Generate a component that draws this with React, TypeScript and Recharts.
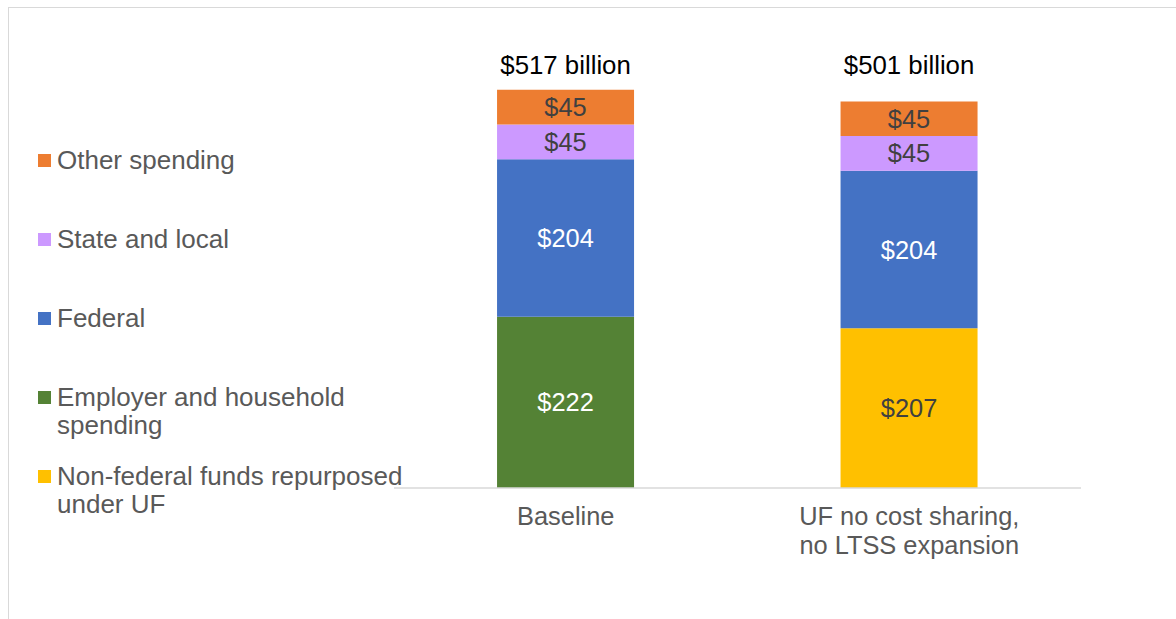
import { Bar, BarChart, LabelList, XAxis, YAxis } from "recharts";

const FONT = '"Liberation Sans", Arial, sans-serif';

const categories = ["Baseline", "UF no cost sharing, no LTSS expansion"];
const totals = [517, 501];
const nonFederal = [null, 207];
const employer = [222, null];
const federal = [204, 204];
const stateLocal = [45, 45];
const other = [45, 45];

// stacked bottom -> top; legend reads top -> bottom
const SERIES = [
  { key: "nonFederal", name: "Non-federal funds repurposed under UF", values: nonFederal, fill: "#FFC000", ink: "#404040" },
  { key: "employer", name: "Employer and household spending", values: employer, fill: "#548235", ink: "#ffffff" },
  { key: "federal", name: "Federal", values: federal, fill: "#4472C4", ink: "#ffffff" },
  { key: "stateLocal", name: "State and local", values: stateLocal, fill: "#CC99FF", ink: "#404040" },
  { key: "other", name: "Other spending", values: other, fill: "#ED7D31", ink: "#404040" },
];

const data = categories.map((name, i) => {
  const row: Record<string, any> = { name, total: totals[i] };
  SERIES.forEach((s) => (row[s.key] = s.values[i]));
  return row;
});

function CategoryTick({ x, y, payload }: any) {
  const lines = String(payload.value).split(/(?<=,) /);
  return (
    <text x={x} y={y} textAnchor="middle" fill="#595959" fontSize={25.4} fontFamily={FONT}>
      {lines.map((l, i) => (
        <tspan key={i} x={x} dy={i === 0 ? 37 : 29}>
          {l}
        </tspan>
      ))}
    </text>
  );
}

function TotalLabel(p: any) {
  return (
    <text x={p.x + p.width / 2} y={74} textAnchor="middle" fill="#000000" fontSize={25.8} fontFamily={FONT}>
      {`$${p.value} billion`}
    </text>
  );
}

function Legend() {
  return (
    <div style={{ position: "absolute", left: 38, top: 146, width: 380, fontFamily: FONT, fontSize: 26, color: "#595959", lineHeight: "28px" }}>
      {[...SERIES].reverse().map((s) => (
        <div key={s.key} style={{ display: "flex", height: 79 }}>
          <span style={{ width: 13, height: 13, background: s.fill, marginTop: 8, marginRight: 6, flex: "none" }} />
          <span>{s.name}</span>
        </div>
      ))}
    </div>
  );
}

export default function App() {
  return (
    <div style={{ position: "fixed", left: 0, top: 0, width: 1176, height: 619, overflow: "hidden", background: "#fff" }}>
      <div style={{ position: "absolute", left: 8, top: 7, width: 1300, height: 800, border: "1px solid #d9d9d9" }} />
      <Legend />
      <div style={{ position: "absolute", left: 0, top: 0 }}>
        <BarChart width={1176} height={619} data={data} margin={{ top: 25, right: 95, bottom: 0, left: 394 }} barCategoryGap="30%">
          <XAxis
            dataKey="name"
            height={131}
            tickLine={false}
            tickSize={0}
            tickMargin={0}
            axisLine={{ stroke: "#d9d9d9", strokeWidth: 1.5 }}
            tick={<CategoryTick />}
            interval={0}
          />
          <YAxis hide domain={[0, 600]} />
          {SERIES.map((s) => (
            <Bar key={s.key} dataKey={s.key} name={s.name} stackId="a" fill={s.fill} isAnimationActive={false}>
              <LabelList
                dataKey={s.key}
                position="center"
                formatter={(v: any) => (v == null ? "" : `$${v}`)}
                style={{ fontSize: 25.4, fontFamily: FONT, fill: s.ink }}
              />
              {s.key === "other" && <LabelList dataKey="total" content={<TotalLabel />} />}
            </Bar>
          ))}
        </BarChart>
      </div>
    </div>
  );
}
